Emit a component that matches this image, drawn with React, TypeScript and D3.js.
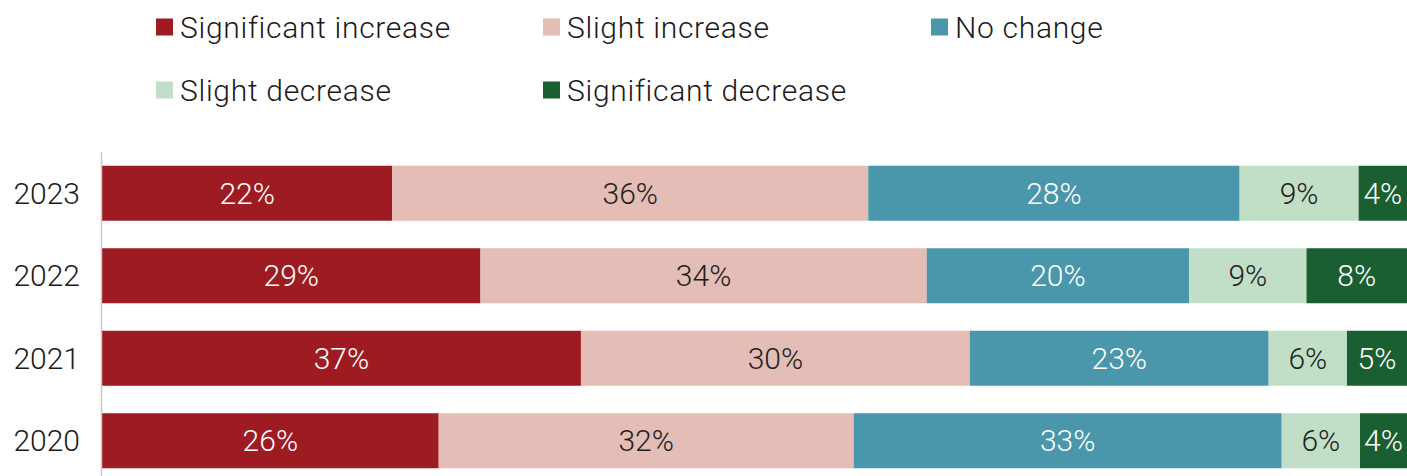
import React from "react";
import * as d3 from "d3";

const years = ["2023", "2022", "2021", "2020"];
const seriesNames = [
  "Significant increase",
  "Slight increase",
  "No change",
  "Slight decrease",
  "Significant decrease",
];
const significantIncrease = [22.2, 29.0, 36.7, 25.8];
const slightIncrease = [36.4, 34.2, 29.8, 31.8];
const noChange = [28.4, 20.1, 22.9, 32.8];
const slightDecrease = [9.1, 9.0, 6.0, 6.0];
const significantDecrease = [3.7, 7.7, 4.6, 3.6];

const colors = ["#9E1B22", "#E4BDB6", "#4A96AB", "#C1DFC7", "#1A5F32"];
const labelColors = ["#ffffff", "#222222", "#ffffff", "#222222", "#ffffff"];

const W = 1407;
const H = 476;
const FONT = "Roboto, 'Liberation Sans', sans-serif";

export default function App() {
  const allSeries = [significantIncrease, slightIncrease, noChange, slightDecrease, significantDecrease];
  const rows = years.map((y, i) => {
    const r: any = { year: y };
    seriesNames.forEach((s, j) => (r[s] = allSeries[j][i]));
    return r;
  });
  const stacked = d3.stack<any>().keys(seriesNames).offset(d3.stackOffsetExpand)(rows);

  const x = d3.scaleLinear().domain([0, 1]).range([102, W]);
  const y = d3
    .scaleBand<string>()
    .domain(years)
    .range([152, 482])
    .paddingInner(1 / 3)
    .paddingOuter(1 / 6);

  const legendCols = [156, 543, 931];
  const legendRows = [27, 90];

  return (
    <svg
      width={W}
      height={H}
      style={{ position: "absolute", left: 0, top: 0, display: "block" }}
      fontFamily={FONT}
    >
      {seriesNames.map((s, i) => {
        const cx = legendCols[i % 3];
        const cy = legendRows[Math.floor(i / 3)];
        return (
          <g key={s}>
            <rect x={cx} y={cy - 8.5} width={17} height={17} fill={colors[i]} />
            <text
              x={cx + 24}
              y={cy}
              dy="0.35em"
              fontSize={30}
              fontWeight={300}
              letterSpacing={0.7}
              fill="#1a1a1a"
            >
              {s}
            </text>
          </g>
        );
      })}

      {stacked.map((layer, si) => (
        <g key={layer.key}>
          {layer.map((d, i) => {
            const yr = years[i];
            const x0 = x(d[0]);
            const x1 = x(d[1]);
            const val = allSeries[si][i];
            return (
              <g key={yr}>
                <rect
                  x={x0}
                  y={y(yr)!}
                  width={x1 - x0}
                  height={y.bandwidth()}
                  fill={colors[si]}
                />
                <text
                  x={(x0 + x1) / 2}
                  y={y(yr)! + y.bandwidth() / 2}
                  dy="0.35em"
                  textAnchor="middle"
                  fontSize={30}
                  fontWeight={300}
                  fill={labelColors[si]}
                >
                  {Math.round(val) + "%"}
                </text>
              </g>
            );
          })}
        </g>
      ))}

      <line x1={101.5} x2={101.5} y1={152} y2={H} stroke="#c8c8c8" strokeWidth={1.5} />

      {years.map((yr) => (
        <text
          key={yr}
          x={80}
          y={y(yr)! + y.bandwidth() / 2}
          dy="0.35em"
          textAnchor="end"
          fontSize={30}
          fontWeight={300}
          fill="#1a1a1a"
        >
          {yr}
        </text>
      ))}
    </svg>
  );
}
